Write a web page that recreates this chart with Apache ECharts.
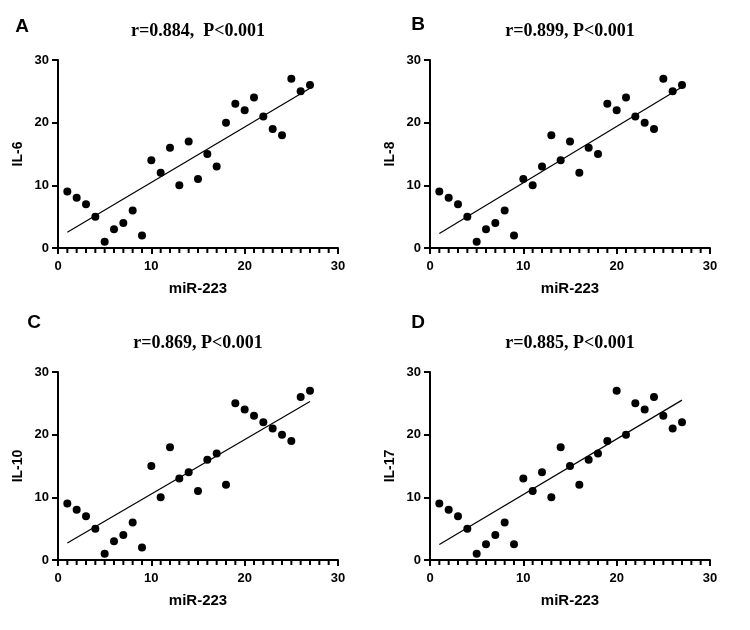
<!DOCTYPE html>
<html>
<head>
<meta charset="utf-8">
<script src="https://cdn.jsdelivr.net/npm/echarts@6/dist/echarts.min.js"></script>
<style>
  html, body { margin: 0; padding: 0; background: #fff; }
  #chart { width: 750px; height: 630px; }
</style>
</head>
<body>
<div id="chart"></div>
<script>
// miR-223 expression (x), same for every panel
var mir223 = [1, 2, 3, 4, 5, 6, 7, 8, 9, 10, 11, 12, 13, 14, 15, 16, 17, 18, 19, 20, 21, 22, 23, 24, 25, 26, 27]
var il6 = [9, 8, 7, 5, 1, 3, 4, 6, 2, 14, 12, 16, 10, 17, 11, 15, 13, 20, 23, 22, 24, 21, 19, 18, 27, 25, 26]
var il8 = [9, 8, 7, 5, 1, 3, 4, 6, 2, 11, 10, 13, 18, 14, 17, 12, 16, 15, 23, 22, 24, 21, 20, 19, 27, 25, 26]
var il10 = [9, 8, 7, 5, 1, 3, 4, 6, 2, 15, 10, 18, 13, 14, 11, 16, 17, 12, 25, 24, 23, 22, 21, 20, 19, 26, 27]
var il17 = [9, 8, 7, 5, 1, 2.5, 4, 6, 2.5, 13, 11, 14, 10, 18, 15, 12, 16, 17, 19, 27, 20, 25, 24, 26, 23, 21, 22]
// small unit ticks on the x axis
var minorTicks = [1, 2, 3, 4, 5, 6, 7, 8, 9, 11, 12, 13, 14, 15, 16, 17, 18, 19, 21, 22, 23, 24, 25, 26, 27, 28, 29]
var panelLetters = ['A', 'B', 'C', 'D']
var panelTitles = ['r=0.884,  P<0.001', 'r=0.899, P<0.001', 'r=0.869, P<0.001', 'r=0.885, P<0.001']
var yNames = ['IL-6', 'IL-8', 'IL-10', 'IL-17']
var xName = 'miR-223'

var panels = [il6, il8, il10, il17]
var grids = [
  { left: 58, top: 60, width: 280, height: 188 },
  { left: 430, top: 60, width: 280, height: 188 },
  { left: 58, top: 372, width: 280, height: 188 },
  { left: 430, top: 372, width: 280, height: 188 }
]
var letterPos = [[22, 27], [418, 25], [34, 323], [418, 323]]

// least squares fit line
function fit (xs, ys) {
  var n = xs.length
  var mx = 0
  var my = 0
  for (var i = 0; i < n; i++) { mx += xs[i]; my += ys[i] }
  mx /= n
  my /= n
  var sxy = 0
  var sxx = 0
  for (var j = 0; j < n; j++) {
    sxy += (xs[j] - mx) * (ys[j] - my)
    sxx += (xs[j] - mx) * (xs[j] - mx)
  }
  var b = sxy / sxx
  var a = my - b * mx
  var x0 = xs[0]
  var x1 = xs[n - 1]
  return [[x0, a + b * x0], [x1, a + b * x1]]
}

var sans = 'Liberation Sans'
var xAxes = []
var yAxes = []
var series = []
var graphics = []

panels.forEach(function (ys, k) {
  xAxes.push({
    gridIndex: k,
    type: 'value',
    min: 0,
    max: 30,
    interval: 10,
    name: xName,
    nameLocation: 'middle',
    nameGap: 33,
    nameTextStyle: { fontFamily: sans, fontWeight: 'bold', fontSize: 15, color: '#000' },
    axisLine: { onZero: false, lineStyle: { color: '#000', width: 2 } },
    axisTick: { length: 6, lineStyle: { color: '#000', width: 2 } },
    axisLabel: { margin: 12, fontFamily: sans, fontWeight: 'bold', fontSize: 13, color: '#000' },
    splitLine: { show: false }
  })
  yAxes.push({
    gridIndex: k,
    type: 'value',
    min: 0,
    max: 30,
    interval: 10,
    name: yNames[k],
    nameLocation: 'middle',
    nameGap: 33,
    nameTextStyle: { fontFamily: sans, fontWeight: 'bold', fontSize: 14, color: '#000' },
    axisLine: { onZero: false, lineStyle: { color: '#000', width: 2 } },
    axisTick: { length: 6, lineStyle: { color: '#000', width: 2 } },
    axisLabel: { margin: 9, fontFamily: sans, fontWeight: 'bold', fontSize: 13, color: '#000' },
    splitLine: { show: false }
  })
  // minor ticks: thin rects hanging under the x axis
  series.push({
    type: 'scatter',
    xAxisIndex: k,
    yAxisIndex: k,
    silent: true,
    clip: false,
    z: 5,
    symbol: 'rect',
    symbolSize: [2, 5],
    symbolOffset: [0, 2.5],
    itemStyle: { color: '#000', opacity: 1 },
    data: minorTicks.map(function (x) { return [x, 0] })
  })
  series.push({
    type: 'scatter',
    xAxisIndex: k,
    yAxisIndex: k,
    symbol: 'circle',
    symbolSize: 8,
    clip: false,
    itemStyle: { color: '#000', opacity: 1 },
    data: mir223.map(function (x, i) { return [x, ys[i]] })
  })
  series.push({
    type: 'line',
    xAxisIndex: k,
    yAxisIndex: k,
    symbol: 'none',
    silent: true,
    lineStyle: { color: '#000', width: 1.2 },
    data: fit(mir223, ys)
  })
  var g = grids[k]
  graphics.push({
    type: 'text',
    x: g.left + g.width / 2,
    y: g.top - 29,
    style: {
      text: panelTitles[k],
      textAlign: 'center',
      textVerticalAlign: 'middle',
      font: 'bold 18px "Liberation Serif"',
      fill: '#000'
    }
  })
  graphics.push({
    type: 'text',
    x: letterPos[k][0],
    y: letterPos[k][1],
    style: {
      text: panelLetters[k],
      textAlign: 'center',
      textVerticalAlign: 'middle',
      font: 'bold 19px "Liberation Sans"',
      fill: '#000'
    }
  })
})

var myChart = echarts.init(document.getElementById('chart'))
myChart.setOption({
  animation: false,
  backgroundColor: '#fff',
  grid: grids,
  xAxis: xAxes,
  yAxis: yAxes,
  series: series,
  graphic: graphics
})
</script>
</body>
</html>
